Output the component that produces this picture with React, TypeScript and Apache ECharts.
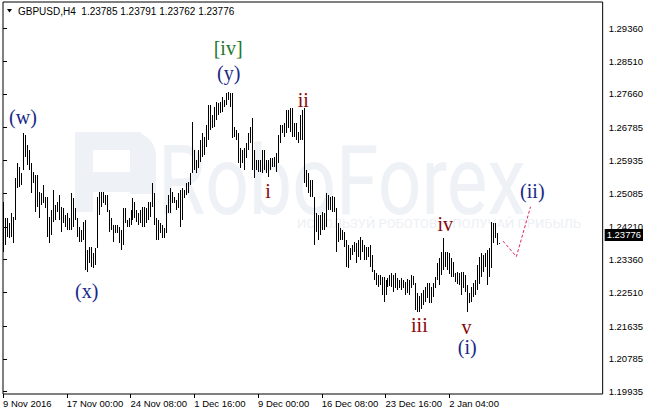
import React, { useEffect, useRef } from "react";
import * as echarts from "echarts";

// ---- data ----
const symbolName = "GBPUSD,H4";
const lastOHLC = [1.23785, 1.23791, 1.23762, 1.23776];

const highs = [
  1.2486, 1.2444, 1.2444, 1.2431, 1.2457, 1.2447, 1.2548, 1.2587, 1.2576, 1.2561,
  1.2664, 1.2659, 1.2633, 1.2620, 1.2587, 1.2563, 1.2556, 1.2556, 1.2511, 1.2509,
  1.2530, 1.2498, 1.2498, 1.2447, 1.2465, 1.2517, 1.2478, 1.2486, 1.2504, 1.2473,
  1.2470, 1.2452, 1.2457, 1.2444, 1.2509, 1.2496, 1.2470, 1.2444, 1.2421, 1.2413,
  1.2434, 1.2439, 1.2361, 1.2369, 1.2369, 1.2353, 1.2366, 1.2498, 1.2511, 1.2511,
  1.2511, 1.2504, 1.2504, 1.2465, 1.2444, 1.2426, 1.2426, 1.2426, 1.2421, 1.2413,
  1.2470, 1.2470, 1.2439, 1.2444, 1.2465, 1.2496, 1.2486, 1.2465, 1.2457, 1.2465,
  1.2473, 1.2473, 1.2470, 1.2486, 1.2486, 1.2535, 1.2509, 1.2444, 1.2439, 1.2431,
  1.2426, 1.2418, 1.2478, 1.2504, 1.2522, 1.2511, 1.2498, 1.2491, 1.2509, 1.2517,
  1.2522, 1.2517, 1.2535, 1.2537, 1.2561, 1.2693, 1.2620, 1.2594, 1.2620, 1.2646,
  1.2664, 1.2654, 1.2685, 1.2737, 1.2737, 1.2711, 1.2732, 1.2745, 1.2742, 1.2745,
  1.2758, 1.2750, 1.2768, 1.2771, 1.2768, 1.2768, 1.2680, 1.2672, 1.2664, 1.2626,
  1.2620, 1.2626, 1.2639, 1.2664, 1.2680, 1.2703, 1.2620, 1.2594, 1.2594, 1.2594,
  1.2620, 1.2620, 1.2594, 1.2594, 1.2600, 1.2600, 1.2602, 1.2613, 1.2659, 1.2685,
  1.2685, 1.2690, 1.2724, 1.2724, 1.2729, 1.2729, 1.2690, 1.2690, 1.2667, 1.2711,
  1.2724, 1.2729, 1.2569, 1.2561, 1.2543, 1.2543, 1.2498, 1.2457, 1.2452, 1.2452,
  1.2460, 1.2457, 1.2509, 1.2504, 1.2498, 1.2501, 1.2498, 1.2470, 1.2431, 1.2418,
  1.2413, 1.2408, 1.2387, 1.2374, 1.2366, 1.2374, 1.2382, 1.2379, 1.2387, 1.2395,
  1.2387, 1.2374, 1.2369, 1.2369, 1.2374, 1.2348, 1.2309, 1.2301, 1.2296, 1.2296,
  1.2291, 1.2291, 1.2283, 1.2288, 1.2296, 1.2301, 1.2296, 1.2301, 1.2288, 1.2283,
  1.2288, 1.2283, 1.2278, 1.2286, 1.2283, 1.2296, 1.2293, 1.2275, 1.2249, 1.2242,
  1.2249, 1.2257, 1.2265, 1.2275, 1.2275, 1.2265, 1.2275, 1.2291, 1.2327, 1.2340,
  1.2356, 1.2392, 1.2356, 1.2356, 1.2353, 1.2340, 1.2330, 1.2301, 1.2304, 1.2301,
  1.2304, 1.2304, 1.2296, 1.2270, 1.2249, 1.2265, 1.2275, 1.2283, 1.2322, 1.2343,
  1.2353, 1.2348, 1.2353, 1.2361, 1.2366, 1.2434, 1.2431, 1.2431, 1.2405, 1.23791,
];

const lows = [
  1.2356, 1.2374, 1.2395, 1.2392, 1.2395, 1.2379, 1.2439, 1.2522, 1.2524, 1.2530,
  1.2569, 1.2602, 1.2581, 1.2569, 1.2509, 1.2535, 1.2460, 1.2473, 1.2444, 1.2478,
  1.2483, 1.2470, 1.2395, 1.2379, 1.2400, 1.2434, 1.2439, 1.2460, 1.2439, 1.2408,
  1.2431, 1.2421, 1.2413, 1.2413, 1.2413, 1.2421, 1.2439, 1.2395, 1.2382, 1.2382,
  1.2387, 1.2309, 1.2304, 1.2327, 1.2317, 1.2314, 1.2322, 1.2366, 1.2452, 1.2473,
  1.2483, 1.2478, 1.2460, 1.2408, 1.2413, 1.2382, 1.2405, 1.2405, 1.2379, 1.2361,
  1.2374, 1.2431, 1.2421, 1.2421, 1.2426, 1.2439, 1.2444, 1.2434, 1.2426, 1.2431,
  1.2421, 1.2421, 1.2431, 1.2439, 1.2447, 1.2473, 1.2426, 1.2387, 1.2387, 1.2405,
  1.2392, 1.2392, 1.2405, 1.2457, 1.2457, 1.2483, 1.2483, 1.2465, 1.2470, 1.2421,
  1.2439, 1.2496, 1.2504, 1.2509, 1.2530, 1.2561, 1.2569, 1.2561, 1.2574, 1.2589,
  1.2602, 1.2607, 1.2628, 1.2646, 1.2672, 1.2677, 1.2680, 1.2698, 1.2711, 1.2716,
  1.2719, 1.2732, 1.2737, 1.2750, 1.2732, 1.2651, 1.2654, 1.2646, 1.2587, 1.2574,
  1.2587, 1.2569, 1.2600, 1.2620, 1.2639, 1.2569, 1.2548, 1.2569, 1.2563, 1.2563,
  1.2561, 1.2569, 1.2561, 1.2550, 1.2569, 1.2576, 1.2576, 1.2563, 1.2587, 1.2639,
  1.2664, 1.2654, 1.2664, 1.2677, 1.2667, 1.2654, 1.2654, 1.2646, 1.2639, 1.2646,
  1.2646, 1.2535, 1.2524, 1.2509, 1.2498, 1.2498, 1.2374, 1.2408, 1.2387, 1.2400,
  1.2413, 1.2413, 1.2421, 1.2465, 1.2465, 1.2460, 1.2460, 1.2356, 1.2382, 1.2387,
  1.2387, 1.2369, 1.2317, 1.2314, 1.2335, 1.2348, 1.2356, 1.2327, 1.2343, 1.2335,
  1.2356, 1.2335, 1.2335, 1.2343, 1.2317, 1.2304, 1.2283, 1.2270, 1.2265, 1.2270,
  1.2244, 1.2226, 1.2244, 1.2265, 1.2268, 1.2265, 1.2252, 1.2262, 1.2257, 1.2262,
  1.2257, 1.2262, 1.2244, 1.2249, 1.2244, 1.2262, 1.2270, 1.2205, 1.2200, 1.2200,
  1.2208, 1.2218, 1.2226, 1.2237, 1.2224, 1.2224, 1.2239, 1.2262, 1.2283, 1.2270,
  1.2296, 1.2309, 1.2317, 1.2309, 1.2299, 1.2291, 1.2291, 1.2278, 1.2273, 1.2270,
  1.2244, 1.2262, 1.2252, 1.2200, 1.2224, 1.2226, 1.2239, 1.2244, 1.2257, 1.2273,
  1.2291, 1.2304, 1.2317, 1.2270, 1.2291, 1.2314, 1.2379, 1.2392, 1.2374, 1.23762,
];

const slotCount = 301; // bars + right shift area
const timeTickIdx = [0, 32, 64, 96, 128, 160, 192, 224];
const timeTickLabels = [
  "9 Nov 2016", "17 Nov 00:00", "24 Nov 08:00", "1 Dec 16:00",
  "9 Dec 00:00", "16 Dec 08:00", "23 Dec 16:00", "2 Jan 04:00",
];
const priceTicks = [
  1.2936, 1.2851, 1.2766, 1.26785, 1.25935, 1.25085,
  1.2421, 1.2336, 1.2251, 1.21635, 1.20785, 1.19935,
];
const priceMin = 1.19875;
const priceMax = 1.30042;

const waveText = ["(w)", "(x)", "[iv]", "(y)", "i", "ii", "iii", "iv", "v", "(i)", "(ii)"];
const waveIdx = [10, 42, 113, 113.3, 133, 150.7, 209, 222, 232.7, 233, 265.7];
const wavePrice = [1.2706, 1.2255, 1.2885, 1.2821, 1.2515, 1.2749, 1.2167, 1.2428, 1.216, 1.2109, 1.2514];
const waveKind = ["blue", "blue", "green", "blue", "red", "red", "red", "red", "red", "blue", "blue"];

const projIdx = [251, 257.7, 264.8];
const projPrice = [1.2384, 1.2344, 1.2473];

const colors: Record<string, string> = { blue: "#1a2787", green: "#23782a", red: "#880a0a" };

export default function App() {
  const ref = useRef<HTMLDivElement>(null);
  useEffect(() => {
    if (!ref.current) return;
    const chart = echarts.init(ref.current, null, { renderer: "svg" });
    const barData = highs.map((h, i) => [i, h, lows[i]]);
    const wm = "#eef1f6";
    const axisFont = "Liberation Sans, Arial, sans-serif";
    chart.setOption({
      animation: false,
      backgroundColor: "#fff",
      grid: {
        left: 3, top: 2, right: 41, bottom: 20, show: true,
        borderColor: "#000", borderWidth: 1, backgroundColor: "transparent",
      },
      graphic: [
        {
          type: "group", z: 0, silent: true,
          children: [
            { type: "rect", shape: { x: 75, y: 132, width: 18, height: 80 }, style: { fill: wm } },
            { type: "rect", shape: { x: 75, y: 132, width: 66, height: 18 }, style: { fill: wm } },
            { type: "rect", shape: { x: 130, y: 132, width: 26, height: 62, r: [0, 24, 4, 0] }, style: { fill: wm } },
            { type: "rect", shape: { x: 93, y: 172, width: 45, height: 20 }, style: { fill: wm } },
            {
              type: "text", x: 158, y: 181, scaleX: 0.8,
              style: { text: "RoboForex", x: 0, y: 0, fill: wm, font: "96px Roboto, sans-serif", verticalAlign: "middle" },
            },
            {
              type: "text", x: 297, y: 223,
              style: { text: "ИСПОЛЬЗУЙ РОБОТОВ – ПОЛУЧАЙ ПРИБЫЛЬ", fill: "#edf0f4", font: "13px Roboto, sans-serif", verticalAlign: "middle" },
            },
          ],
        },
        {
          type: "polygon", z: 10,
          shape: { points: [[7, 9], [12, 9], [9.5, 12.5]] },
          style: { fill: "#000" },
        },
        {
          type: "text", z: 10, x: 18, y: 11,
          style: {
            text: symbolName + "  " + lastOHLC.map((v) => v.toFixed(5)).join(" "),
            fill: "#000", font: "10px " + axisFont, verticalAlign: "middle",
          },
        },
      ],
      xAxis: {
        type: "value", min: 0, max: slotCount,
        axisLine: { show: false },
        splitLine: { show: false },
        axisTick: { show: true, length: 4, customValues: timeTickIdx, lineStyle: { color: "#000" } },
        axisLabel: {
          customValues: timeTickIdx,
          formatter: (v: number) => {
            const i = timeTickIdx.indexOf(Math.round(v));
            return i >= 0 ? timeTickLabels[i] : "";
          },
          align: "left", margin: 4, color: "#000", fontSize: 9.5, fontFamily: axisFont,
        },
      },
      yAxis: {
        type: "value", position: "right", min: priceMin, max: priceMax, scale: true,
        axisLine: { show: false },
        splitLine: { show: false },
        axisTick: { show: true, length: 4, customValues: priceTicks, lineStyle: { color: "#000" } },
        axisLabel: {
          customValues: priceTicks,
          formatter: (v: number) => v.toFixed(5),
          margin: 6, color: "#000", fontSize: 9.5, fontFamily: axisFont,
        },
      },
      series: [
        {
          type: "custom",
          z: 3,
          data: barData,
          encode: { x: 0, y: [1, 2] },
          renderItem: (params: any, api: any) => {
            const k = api.value(0);
            const hi = api.coord([k, api.value(1)]);
            const lo = api.coord([k, api.value(2)]);
            const x = Math.round(hi[0]);
            const y1 = Math.round(hi[1]);
            const y2 = Math.round(lo[1]);
            return {
              type: "rect",
              shape: { x, y: y1, width: 1, height: Math.max(1, y2 - y1) },
              style: { fill: "#000" },
            };
          },
        },
        {
          type: "line",
          z: 4,
          data: projIdx.map((x, i) => [x, projPrice[i]]),
          symbol: "none",
          lineStyle: { color: "#e3245c", width: 1, type: [3, 2] },
          markLine: {
            silent: true,
            symbol: "none",
            lineStyle: { color: "rgba(0,0,0,0)", width: 0, type: "solid" },
            emphasis: { disabled: true },
            data: [{ yAxis: lastOHLC[3] }],
            label: {
              show: true, position: "end", distance: 2,
              formatter: () => lastOHLC[3].toFixed(5),
              color: "#fff", backgroundColor: "#000", padding: [1, 2, 1, 2],
              fontSize: 9.5, fontFamily: axisFont, opacity: 1,
            },
          },
        },
        {
          type: "scatter",
          z: 5,
          symbolSize: 1,
          itemStyle: { color: "rgba(0,0,0,0)" },
          emphasis: { disabled: true },
          data: waveText.map((t, i) => ({
            value: [waveIdx[i], wavePrice[i]],
            label: { color: colors[waveKind[i]] },
          })),
          label: {
            show: true, position: "inside",
            formatter: (p: any) => waveText[p.dataIndex],
            fontSize: 20, fontFamily: "Liberation Serif, Times New Roman, serif",
            textBorderWidth: 0, opacity: 1,
          },
        },
      ],
    });
    return () => chart.dispose();
  }, []);
  return <div ref={ref} style={{ position: "absolute", left: 0, top: 0, width: 646, height: 414 }} />;
}
